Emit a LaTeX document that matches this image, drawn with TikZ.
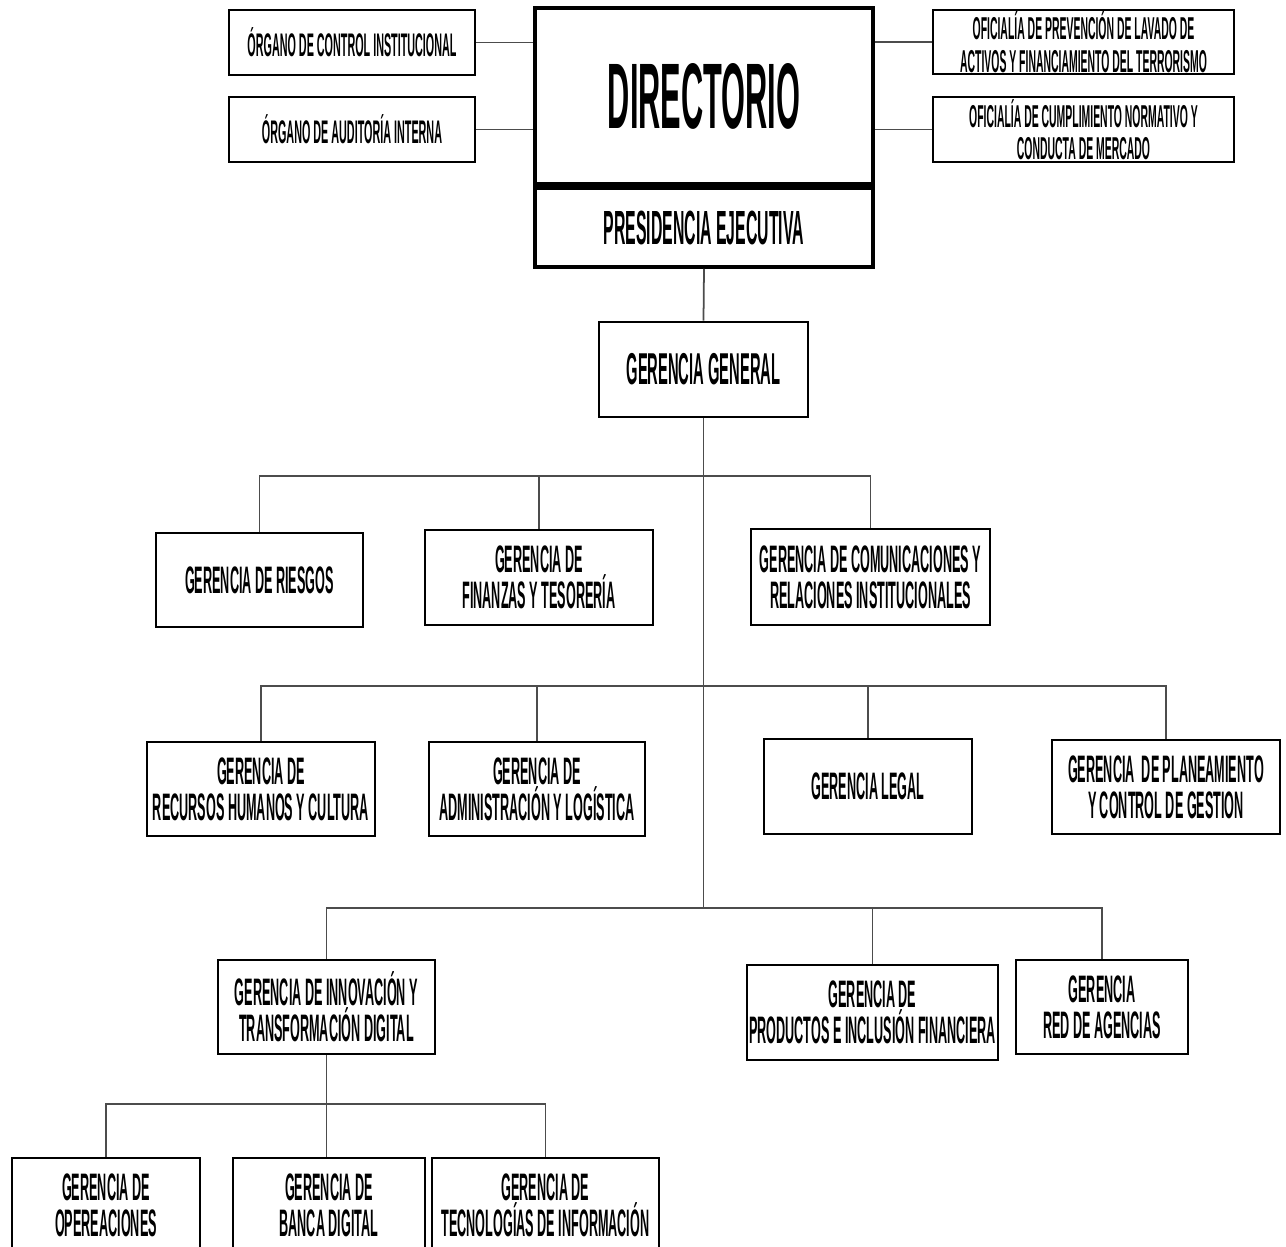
\documentclass[tikz,border=0pt]{standalone}
\usepackage{fontspec}
\setmainfont[FakeStretch=0.33]{Liberation Sans}
\tikzset{
  caja/.style={draw, line width=1.5pt, align=center, inner sep=0pt,
    font=\bfseries\fontsize{21.8}{20.5}\selectfont},
  organo/.style={caja, font=\bfseries\fontsize{18.6}{18}\selectfont},
  oficialia/.style={caja, font=\bfseries\fontsize{18}{18.5}\selectfont},
  tam/.style 2 args={minimum width=#1*0.02cm, minimum height=#2*0.02cm},
  linea/.style={line width=1pt, draw=black!70},
}
\begin{document}
\begin{tikzpicture}[x=0.02cm,y=-0.02cm]
  \clip (0,0) rectangle (1286,1247);
  % alta direccion
  \node[caja, line width=2.4pt, tam={338}{176}, font=\bfseries\fontsize{53}{55}\selectfont] (dir) at (704,96) {DIRECTORIO};
  \node[caja, line width=2pt, tam={338}{79}, font=\bfseries\fontsize{27.3}{29}\selectfont] (pre) at (704,227.5) {PRESIDENCIA EJECUTIVA};
  \node[organo, tam={246}{65}] (oci) at (352,42.5) {ÓRGANO DE CONTROL INSTITUCIONAL};
  \node[organo, tam={246}{65}] (oai) at (352,129.5) {ÓRGANO DE AUDITORÍA INTERNA};
  \node[oficialia, tam={301}{64}] (opl) at (1083.5,42) {OFICIALÍA DE PREVENCIÓN DE LAVADO DE\\ACTIVOS Y FINANCIAMIENTO DEL TERRORISMO};
  \node[oficialia, tam={301}{65}] (ocn) at (1083.5,129.5) {OFICIALÍA DE CUMPLIMIENTO NORMATIVO Y\\CONDUCTA DE MERCADO};
  \draw[linea] (oci.east) -- (dir.west |- oci.east);
  \draw[linea] (oai.east) -- (dir.west |- oai.east);
  \draw[linea] (opl.west) -- (dir.east |- opl.west);
  \draw[linea] (ocn.west) -- (dir.east |- ocn.west);
  \node[caja, tam={209}{95}, font=\bfseries\fontsize{25.4}{27}\selectfont] (gg) at (703.5,369.5) {GERENCIA GENERAL};
  \draw[linea] (pre.south) -- (gg.north);
  % gerencias
  \node[caja, tam={207}{94}] (rie) at (259.5,580) {GERENCIA DE RIESGOS};
  \node[caja, tam={228}{95}] (fin) at (539,577.5) {GERENCIA DE\\FINANZAS Y TESORERÍA};
  \node[caja, tam={239}{96}] (com) at (870.5,577) {GERENCIA DE COMUNICACIONES Y\\RELACIONES INSTITUCIONALES};
  \node[caja, tam={228}{94}] (rrhh) at (261,789) {GERENCIA DE\\RECURSOS HUMANOS Y CULTURA};
  \node[caja, tam={216}{94}] (adm) at (537,789) {GERENCIA DE\\ADMINISTRACIÓN Y LOGÍSTICA};
  \node[caja, tam={208}{95}] (leg) at (868,786.5) {GERENCIA LEGAL};
  \node[caja, tam={228}{94}] (pla) at (1166,787) {GERENCIA\ \ DE PLANEAMIENTO\\Y CONTROL DE GESTION};
  \node[caja, tam={217}{94}] (inn) at (326.5,1007) {GERENCIA DE INNOVACIÓN Y\\TRANSFORMACIÓN DIGITAL};
  \node[caja, tam={251}{95}] (pro) at (872.5,1012.5) {GERENCIA DE\\PRODUCTOS E INCLUSIÓN FINANCIERA};
  \node[caja, tam={172}{94}] (red) at (1102,1007) {GERENCIA\\RED DE AGENCIAS};
  \node[caja, tam={188}{94}] (ope) at (106,1205) {GERENCIA DE\\OPEREACIONES};
  \node[caja, tam={192}{94}] (ban) at (329,1205) {GERENCIA DE\\BANCA DIGITAL};
  \node[caja, tam={227}{94}] (tec) at (545.5,1205) {GERENCIA DE\\TECNOLOGÍAS DE INFORMACIÓN};
  % conectores
  \coordinate (b1) at (703.5,476);
  \coordinate (b2) at (703.5,686);
  \coordinate (b3) at (703.5,908);
  \coordinate (b4) at (326.5,1104);
  \draw[linea] (gg.south) -- (b3);
  \draw[linea] (rie.north) |- (b1) -| (com.north);
  \draw[linea] (fin.north) -- (fin.north |- b1);
  \draw[linea] (rrhh.north) |- (b2) -| (pla.north);
  \draw[linea] (adm.north) -- (adm.north |- b2);
  \draw[linea] (leg.north) -- (leg.north |- b2);
  \draw[linea] (inn.north) |- (b3) -| (red.north);
  \draw[linea] (pro.north) -- (pro.north |- b3);
  \draw[linea] (inn.south) -- (b4);
  \draw[linea] (ope.north) |- (b4) -| (tec.north);
  \draw[linea] (ban.north -| b4) -- (b4);
\end{tikzpicture}
\end{document}
